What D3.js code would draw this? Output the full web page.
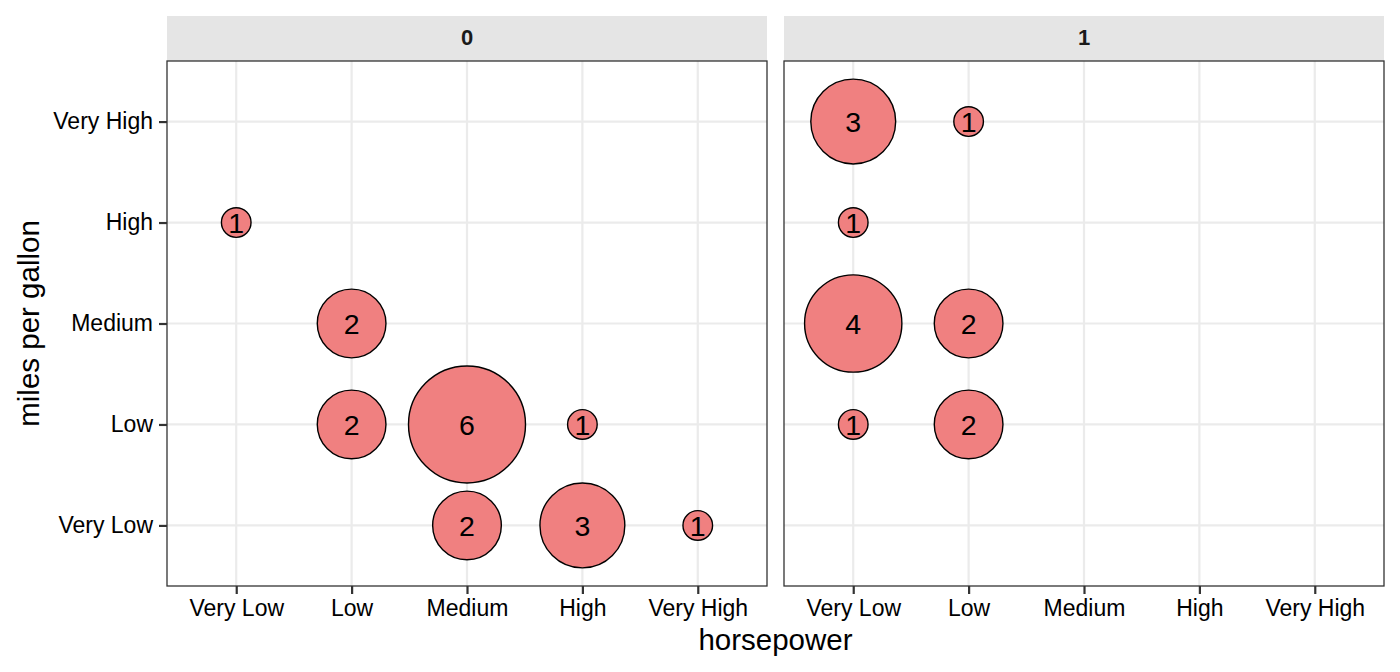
<!DOCTYPE html>
<html>
<head>
<meta charset="utf-8">
<script src="https://cdn.jsdelivr.net/npm/d3@7"></script>
<style>
  body { margin: 0; background: #fff; }
  text { font-family: "Liberation Sans", Arial, sans-serif; }
</style>
</head>
<body>
<div id="chart"></div>
<script>
/*************** DATA ***************/

var levels = ["Very Low", "Low", "Medium", "High", "Very High"];
var facets = ["0", "1"];

// counts per facet: [horsepower, mpg, n]
var facet0 = [
    ["Very Low", "High", 1],
    ["Low", "Medium", 2],
    ["Low", "Low", 2],
    ["Medium", "Low", 6],
    ["High", "Low", 1],
    ["Medium", "Very Low", 2],
    ["High", "Very Low", 3],
    ["Very High", "Very Low", 1]
];
var facet1 = [
    ["Very Low", "Very High", 3],
    ["Low", "Very High", 1],
    ["Very Low", "High", 1],
    ["Very Low", "Medium", 4],
    ["Low", "Medium", 2],
    ["Very Low", "Low", 1],
    ["Low", "Low", 2]
];

/*************** LAYOUT ***************/

var W = 1400, H = 672;
var panelTop = 61, panelBottom = 586, stripTop = 16;
var panels = [
    { name: facets[0], x0: 167, x1: 767, data: facet0 },
    { name: facets[1], x0: 784, x1: 1384, data: facet1 }
];

var svg = d3.select("#chart").append("svg")
    .attr("width", W)
    .attr("height", H);

// discrete scale with 0.6 expansion on each side (like ggplot)
function discrete(r0, r1) {
    var n = levels.length;
    var step = (r1 - r0) / (n - 1 + 1.2);
    return d3.scalePoint().domain(levels).range([r0 + 0.6 * step, r1 - 0.6 * step]);
}

var y = discrete(panelBottom, panelTop);

// ggplot area_pal: radius linear in sqrt of rescaled count
var norm = d3.scaleLinear().domain([1, 6]).range([0, 1]);
var rad = d3.scaleLinear().domain([0, 1]).range([14.8, 58.5]);
function radius(n) { return rad(Math.sqrt(norm(n))); }

panels.forEach(function(p, i) {
    var x = discrete(p.x0, p.x1);
    var g = svg.append("g");

    // strip
    g.append("rect")
        .attr("x", p.x0).attr("y", stripTop)
        .attr("width", p.x1 - p.x0).attr("height", panelTop - stripTop)
        .attr("fill", "#e5e5e5");
    g.append("text")
        .attr("x", (p.x0 + p.x1) / 2)
        .attr("y", (stripTop + panelTop) / 2 - 1)
        .attr("dy", "0.36em")
        .attr("text-anchor", "middle")
        .attr("font-size", 22)
        .attr("font-weight", "bold")
        .attr("fill", "#1a1a1a")
        .text(p.name);

    // grid
    g.selectAll(".gx").data(levels).enter().append("line")
        .attr("x1", function(d) { return x(d); })
        .attr("x2", function(d) { return x(d); })
        .attr("y1", panelTop).attr("y2", panelBottom)
        .attr("stroke", "#ebebeb").attr("stroke-width", 2.2);
    g.selectAll(".gy").data(levels).enter().append("line")
        .attr("y1", function(d) { return y(d); })
        .attr("y2", function(d) { return y(d); })
        .attr("x1", p.x0).attr("x2", p.x1)
        .attr("stroke", "#ebebeb").attr("stroke-width", 2.2);

    // bubbles
    var pts = g.selectAll(".pt").data(p.data).enter().append("g")
        .attr("transform", function(d) { return "translate(" + x(d[0]) + "," + y(d[1]) + ")"; });
    pts.append("circle")
        .attr("r", function(d) { return radius(d[2]); })
        .attr("fill", "#f08080")
        .attr("stroke", "#000")
        .attr("stroke-width", 1.4);
    pts.append("text")
        .attr("text-anchor", "middle")
        .attr("dy", "0.36em")
        .attr("font-size", 28.5)
        .attr("fill", "#000")
        .text(function(d) { return d[2]; });

    // border
    g.append("rect")
        .attr("x", p.x0).attr("y", panelTop)
        .attr("width", p.x1 - p.x0).attr("height", panelBottom - panelTop)
        .attr("fill", "none").attr("stroke", "#333").attr("stroke-width", 1.3);

    // x axis
    var xAxis = d3.axisBottom(x).tickSize(8).tickPadding(5);
    var ax = g.append("g")
        .attr("transform", "translate(0," + panelBottom + ")")
        .call(xAxis);
    ax.select(".domain").remove();
    ax.selectAll("line").attr("stroke", "#333").attr("stroke-width", 2.2);
    ax.selectAll("text").attr("font-size", 23).style("fill", "#000").attr("dy", "0.75em");

    // y axis (left panel only)
    if (i === 0) {
        var yAxis = d3.axisLeft(y).tickSize(8).tickPadding(6);
        var ay = g.append("g")
            .attr("transform", "translate(" + p.x0 + ",0)")
            .call(yAxis);
        ay.select(".domain").remove();
        ay.selectAll("line").attr("stroke", "#333").attr("stroke-width", 2.2);
        ay.selectAll("text").attr("font-size", 23).style("fill", "#000");
    }
});

// axis titles
svg.append("text")
    .attr("x", (panels[0].x0 + panels[1].x1) / 2)
    .attr("y", 650)
    .attr("text-anchor", "middle")
    .attr("font-size", 29.5)
    .text("horsepower");

svg.append("text")
    .attr("transform", "translate(39," + (panelTop + panelBottom) / 2 + ") rotate(-90)")
    .attr("text-anchor", "middle")
    .attr("font-size", 29.5)
    .text("miles per gallon");
</script>
</body>
</html>
